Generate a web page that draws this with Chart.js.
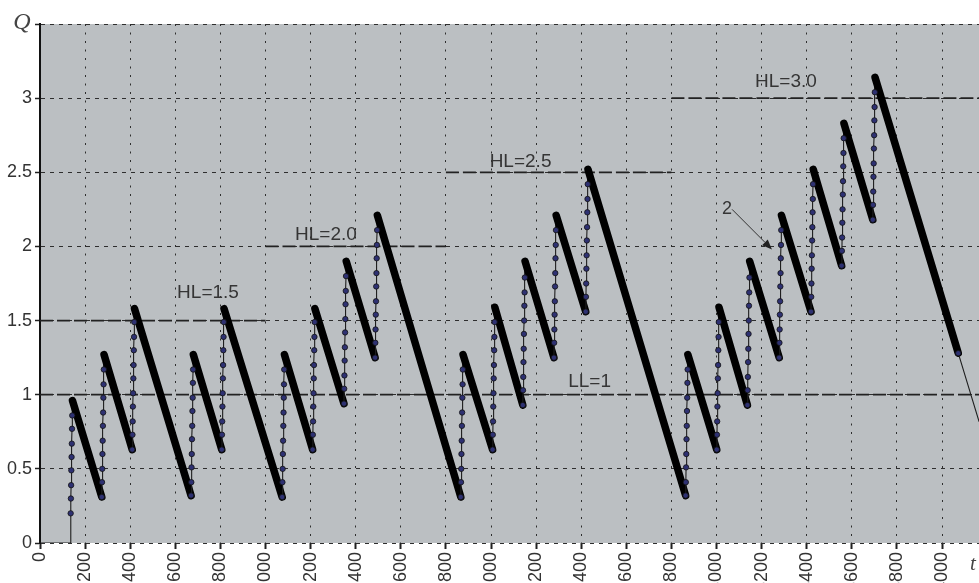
<!DOCTYPE html>
<html>
<head>
<meta charset="utf-8">
<script src="https://cdn.jsdelivr.net/npm/chart.js@4.4.1/dist/chart.umd.min.js"></script>
<style>
  html, body { margin: 0; padding: 0; background: #fff; overflow: hidden; }
  canvas { display: block; }
</style>
</head>
<body>
<canvas id="stock" width="979" height="610"></canvas>
<script>
// ---- data -------------------------------------------------------------
// Axis ticks
const xTickValues = [0, 200, 400, 600, 800, 1000, 1200, 1400, 1600, 1800, 2000,
                     2200, 2400, 2600, 2800, 3000, 3200, 3400, 3600, 3800, 4000];
const xTickLabels = xTickValues.map(String);
const yTickValues = [0, 0.5, 1, 1.5, 2, 2.5, 3, 3.5];
const yTickLabels = ['0', '0.5', '1', '1.5', '2', '2.5', '3', ''];

// Idle period before the first refill
const idleT = [0];
const idleQ = [0];

// Start time of each refill; samples follow one time unit apart
const refillStart = [135, 274, 409, 670, 806, 1074, 1209, 1348, 1486, 1866, 2007,
                     2141, 2279, 2420, 2863, 3001, 3137, 3278, 3419, 3555, 3693];

// Sampled stock level during each refill (first value = level at refill start,
// last value = peak, after which stock is drawn down linearly)
const refillQ = [
  [0, 0.20, 0.30, 0.39, 0.49, 0.58, 0.67, 0.77, 0.86, 0.96],
  [0.31, 0.41, 0.50, 0.60, 0.69, 0.79, 0.88, 0.98, 1.07, 1.17, 1.27],
  [0.63, 0.73, 0.82, 0.92, 1.01, 1.11, 1.20, 1.30, 1.39, 1.49, 1.58],
  [0.32, 0.41, 0.51, 0.60, 0.70, 0.79, 0.89, 0.98, 1.08, 1.17, 1.27],
  [0.63, 0.73, 0.82, 0.92, 1.01, 1.11, 1.20, 1.30, 1.39, 1.49, 1.58],
  [0.31, 0.41, 0.50, 0.60, 0.69, 0.79, 0.88, 0.98, 1.07, 1.17, 1.27],
  [0.63, 0.73, 0.82, 0.92, 1.01, 1.11, 1.20, 1.30, 1.39, 1.49, 1.58],
  [0.94, 1.04, 1.13, 1.23, 1.32, 1.42, 1.51, 1.61, 1.70, 1.80, 1.90],
  [1.25, 1.35, 1.44, 1.54, 1.63, 1.73, 1.82, 1.92, 2.01, 2.11, 2.21],
  [0.31, 0.41, 0.50, 0.60, 0.69, 0.79, 0.88, 0.98, 1.07, 1.17, 1.27],
  [0.63, 0.73, 0.82, 0.92, 1.01, 1.11, 1.20, 1.30, 1.39, 1.49, 1.59],
  [0.93, 1.03, 1.12, 1.22, 1.31, 1.41, 1.50, 1.60, 1.69, 1.79, 1.90],
  [1.25, 1.35, 1.44, 1.54, 1.63, 1.73, 1.82, 1.92, 2.01, 2.11, 2.21],
  [1.56, 1.66, 1.75, 1.85, 1.94, 2.04, 2.13, 2.23, 2.32, 2.42, 2.52],
  [0.32, 0.41, 0.51, 0.60, 0.70, 0.79, 0.89, 0.98, 1.08, 1.17, 1.27],
  [0.63, 0.73, 0.82, 0.92, 1.01, 1.11, 1.20, 1.30, 1.39, 1.49, 1.59],
  [0.93, 1.03, 1.12, 1.22, 1.31, 1.41, 1.50, 1.60, 1.69, 1.79, 1.90],
  [1.25, 1.35, 1.44, 1.54, 1.63, 1.73, 1.82, 1.92, 2.01, 2.11, 2.21],
  [1.56, 1.66, 1.75, 1.85, 1.94, 2.04, 2.13, 2.23, 2.32, 2.42, 2.52],
  [1.87, 1.97, 2.06, 2.16, 2.25, 2.35, 2.44, 2.54, 2.63, 2.73, 2.83],
  [2.18, 2.28, 2.37, 2.47, 2.56, 2.66, 2.75, 2.85, 2.94, 3.04, 3.14]
];

// End of the last drawdown, then its continuation to the edge of the axis
const tailT = [4072, 4164];
const tailQ = [1.28, 0.82];

// Control levels: low level LL and the successive high levels HL
const levelNames = ['LL=1', 'HL=1.5', 'HL=2.0', 'HL=2.5', 'HL=3.0'];
const levelQ     = [1, 1.5, 2, 2.5, 3];
const levelFrom  = [0, 0, 1000, 1800, 2800];
const levelTo    = [4164, 1000, 1800, 2800, 4164];

// ---- series assembly --------------------------------------------------
const series = [];
idleT.forEach((t, i) => series.push({ x: t, y: idleQ[i], dot: false }));
refillStart.forEach((t0, i) => {
  const run = refillQ[i];
  run.forEach((q, k) => {
    series.push({ x: t0 + k, y: q, dot: q > 0 && k < run.length - 1 });
  });
});
series.push({ x: tailT[0], y: tailQ[0], dot: true });
series.push({ x: tailT[1], y: tailQ[1], dot: false, thin: true });

const levelSets = levelQ.map((q, i) => ({
  label: levelNames[i],
  data: [{ x: levelFrom[i], y: q }, { x: levelTo[i], y: q }],
  showLine: true,
  borderColor: '#222',
  borderWidth: 1.8,
  borderDash: [13, 4],
  pointRadius: 0,
  order: 1
}));

// ---- decorations ------------------------------------------------------
const FONT = '"Liberation Sans", Arial, sans-serif';
const levelLabelAt = [[2437, 1.088], [745, 1.689], [1268, 2.081], [2131, 2.574], [3308, 3.108]];
const seriesTag = { text: '2', at: [3047, 2.25], from: [3069, 2.25], to: [3246, 1.98] };

const plotBg = {
  id: 'plotBg',
  beforeDraw(chart) {
    const { ctx, chartArea: a } = chart;
    ctx.save();
    ctx.fillStyle = '#bbbfc2';
    ctx.fillRect(a.left, a.top, a.right - a.left, a.bottom - a.top);
    ctx.restore();
  }
};

const notes = {
  id: 'notes',
  afterDatasetsDraw(chart) {
    const { ctx, chartArea: a, scales: { x, y } } = chart;
    ctx.save();
    ctx.fillStyle = '#353535';
    ctx.textAlign = 'center';
    ctx.textBaseline = 'middle';
    ctx.font = '19px ' + FONT;
    levelNames.forEach((name, i) => {
      const [t, q] = levelLabelAt[i];
      ctx.fillText(name, x.getPixelForValue(t), y.getPixelForValue(q));
    });

    // series tag with arrow
    ctx.font = '18px ' + FONT;
    ctx.fillText(seriesTag.text, x.getPixelForValue(seriesTag.at[0]), y.getPixelForValue(seriesTag.at[1]));
    const x1 = x.getPixelForValue(seriesTag.from[0]), y1 = y.getPixelForValue(seriesTag.from[1]);
    const x2 = x.getPixelForValue(seriesTag.to[0]), y2 = y.getPixelForValue(seriesTag.to[1]);
    const ang = Math.atan2(y2 - y1, x2 - x1);
    const head = 10, half = 4;
    ctx.strokeStyle = '#333';
    ctx.lineWidth = 1;
    ctx.beginPath();
    ctx.moveTo(x1, y1);
    ctx.lineTo(x2 - Math.cos(ang) * head, y2 - Math.sin(ang) * head);
    ctx.stroke();
    ctx.beginPath();
    ctx.moveTo(x2, y2);
    ctx.lineTo(x2 - Math.cos(ang) * head - Math.sin(ang) * half, y2 - Math.sin(ang) * head + Math.cos(ang) * half);
    ctx.lineTo(x2 - Math.cos(ang) * head + Math.sin(ang) * half, y2 - Math.sin(ang) * head - Math.cos(ang) * half);
    ctx.closePath();
    ctx.fillStyle = '#222';
    ctx.fill();

    // axis names
    ctx.fillStyle = '#444';
    ctx.font = 'italic 24px "Liberation Serif", "DejaVu Serif", serif';
    ctx.fillText('Q', a.left - 18, a.top - 1);
    ctx.font = 'italic 21px "Liberation Serif", "DejaVu Serif", serif';
    ctx.fillText('t', a.right - 6, a.bottom + 21);
    ctx.restore();
  }
};

// ---- chart ------------------------------------------------------------
new Chart(document.getElementById('stock'), {
  type: 'scatter',
  data: {
    datasets: [
      {
        label: 'Q',
        data: series,
        showLine: true,
        order: 0,
        borderColor: '#000',
        borderWidth: 1,
        borderCapStyle: 'round',
        borderJoinStyle: 'round',
        pointRadius: c => (c.raw && c.raw.dot ? 2.7 : 0),
        pointBackgroundColor: '#2e3172',
        pointBorderColor: '#111',
        pointBorderWidth: 0.8,
        segment: {
          borderWidth: c => {
            const p = series[c.p0DataIndex], n = series[c.p1DataIndex];
            return (n.y < p.y && !n.thin) ? 7.5 : 1.1;
          },
          borderColor: c => {
            const p = series[c.p0DataIndex], n = series[c.p1DataIndex];
            return (n.y < p.y && !n.thin) ? '#000' : '#1e1e1e';
          }
        }
      },
      ...levelSets
    ]
  },
  options: {
    responsive: false,
    animation: false,
    events: [],
    layout: { padding: { top: 24, left: 0, right: 0, bottom: 0 } },
    plugins: { legend: { display: false }, tooltip: { enabled: false } },
    scales: {
      x: {
        type: 'linear',
        min: 0,
        max: 4164,
        afterBuildTicks: s => { s.ticks = xTickValues.map(v => ({ value: v })); },
        afterFit: s => { s.height = 67; },
        ticks: {
          autoSkip: false,
          minRotation: 90,
          maxRotation: 90,
          padding: 3,
          color: '#333',
          font: { family: FONT, size: 18 },
          callback: (v, i) => xTickLabels[i]
        },
        grid: {
          color: '#2e2e2e',
          lineWidth: 1,
          drawTicks: true,
          tickLength: 6,
          tickWidth: 2,
          tickColor: '#222',
          tickBorderDash: []
        },
        border: { display: false, dash: [2, 6.5] }
      },
      y: {
        type: 'linear',
        min: 0,
        max: 3.5,
        afterBuildTicks: s => { s.ticks = yTickValues.map(v => ({ value: v })); },
        afterFit: s => { s.width = 40; },
        ticks: {
          padding: 3,
          color: '#333',
          font: { family: FONT, size: 18 },
          callback: (v, i) => yTickLabels[i]
        },
        grid: {
          color: '#2e2e2e',
          lineWidth: 1,
          drawTicks: true,
          tickLength: 5,
          tickWidth: 1.5,
          tickColor: '#222',
          tickBorderDash: []
        },
        border: { display: true, color: '#111', width: 2, dash: [4, 5] }
      }
    }
  },
  plugins: [plotBg, notes]
});
</script>
</body>
</html>
